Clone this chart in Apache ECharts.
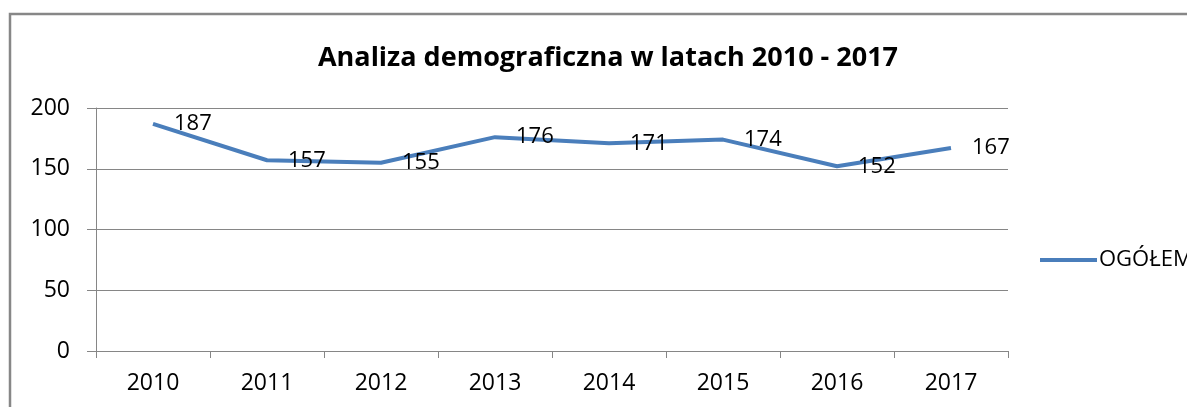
<!DOCTYPE html>
<html>
<head>
<meta charset="utf-8">
<script src="https://cdn.jsdelivr.net/npm/echarts@6/dist/echarts.min.js"></script>
<style>
  html, body { margin: 0; padding: 0; background: #fff; }
  #chart { width: 1187px; height: 407px; }
</style>
</head>
<body>
<div id="chart"></div>
<script>
const years = ["2010", "2011", "2012", "2013", "2014", "2015", "2016", "2017"];
const ogolem = [187, 157, 155, 176, 171, 174, 152, 167];
const seriesName = "OGÓŁEM";
const chartTitle = "Analiza demograficzna w latach 2010 - 2017";

const font = "'Open Sans', 'Liberation Sans', sans-serif";
const chart = echarts.init(document.getElementById("chart"));

chart.setOption({
  animation: false,
  textStyle: { fontFamily: font },
  graphic: [
    {
      type: "rect",
      shape: { x: 10, y: 14, width: 1250, height: 450 },
      style: { fill: "none", stroke: "#878787", lineWidth: 2.5 },
      silent: true
    }
  ],
  title: {
    text: chartTitle,
    left: 603,
    textAlign: "center",
    top: 40,
    textStyle: { fontFamily: font, fontSize: 27, fontWeight: "bold", color: "#000" }
  },
  legend: {
    data: [seriesName],
    left: 1035,
    top: 244,
    itemWidth: 57,
    itemHeight: 4,
    itemGap: 0,
    icon: "rect",
    textStyle: { fontFamily: font, fontSize: 22, color: "#000", padding: [0, 0, 0, -3] }
  },
  grid: { left: 96, right: 179, top: 108, bottom: 56, containLabel: false },
  xAxis: {
    type: "category",
    data: years,
    boundaryGap: true,
    axisLine: { lineStyle: { color: "#868686", width: 1 } },
    axisTick: { show: true, length: 7, alignWithLabel: false, lineStyle: { color: "#868686" } },
    axisLabel: { fontFamily: font, fontSize: 23, color: "#000", margin: 21 }
  },
  yAxis: {
    type: "value",
    min: 0,
    max: 200,
    interval: 50,
    axisLine: { show: true, lineStyle: { color: "#868686", width: 1 } },
    axisTick: { show: true, inside: false, length: 9, lineStyle: { color: "#868686" } },
    axisLabel: { fontFamily: font, fontSize: 23, color: "#000", margin: 26 },
    splitLine: { lineStyle: { color: "#868686", width: 1 } }
  },
  series: [
    {
      name: seriesName,
      type: "line",
      data: ogolem,
      symbol: "circle",
      symbolSize: 0,
      showSymbol: true,
      lineStyle: { color: "#4a7ebb", width: 4 },
      itemStyle: { color: "#4a7ebb" },
      label: {
        show: true,
        position: "right",
        distance: 21,
        fontFamily: font,
        fontSize: 22,
        color: "#000"
      }
    }
  ]
});
</script>
</body>
</html>
